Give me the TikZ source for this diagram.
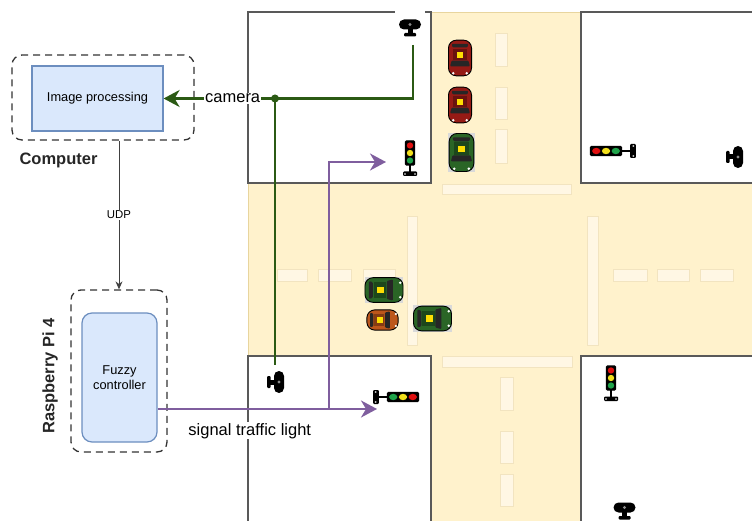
\documentclass[tikz,border=0pt]{standalone}
\usepackage{fontspec}
\setmainfont{Liberation Sans}
\usetikzlibrary{arrows.meta,calc,positioning}

\definecolor{road}{HTML}{FFF2CC}
\definecolor{roadedge}{HTML}{E8D59E}
\definecolor{paint}{HTML}{FFF7E4}
\definecolor{paintedge}{HTML}{F2E4C0}
\definecolor{procfill}{HTML}{DAE8FC}
\definecolor{procedge}{HTML}{6C8EBF}
\definecolor{camgreen}{HTML}{2B5A14}
\definecolor{sigpurple}{HTML}{7F5E9E}
\definecolor{lampred}{HTML}{E01010}
\definecolor{lampyellow}{HTML}{F2E01C}
\definecolor{lampgreen}{HTML}{1FA34A}
\definecolor{carred}{HTML}{951A15}
\definecolor{cargreen}{HTML}{2A6526}
\definecolor{carorange}{HTML}{BC561B}

\tikzset{
	block/.style={fill=white, draw=black!65, line width=1.8pt},
	lane paint/.style={fill=paint, draw=paintedge, line width=.6pt},
	proc/.style={draw=procedge, fill=procfill, line width=1.2pt,
		font=\fontsize{12.8}{15}\selectfont, align=center},
	group/.style={draw=black!80, dash pattern=on 7pt off 5pt, line width=1.3pt,
		rounded corners=10pt},
	group label/.style={font=\fontsize{16.5}{19}\selectfont\bfseries, text=black!85, inner sep=0pt},
	link/.style={draw=black!75, line width=.9pt, -{Stealth[length=8pt,width=7pt]}},
	cam wire/.style={draw=camgreen, line width=2.2pt},
	sig wire/.style={draw=sigpurple, line width=2.2pt},
	big tip/.style={-{Stealth[length=16pt,width=17pt,inset=5pt]}},
	wire label/.style={font=\fontsize{16.5}{19}\selectfont, fill=white, inner sep=1pt},
	% lamp post, upright, centred on the housing
	pics/signal/.style={code={
		\draw[line width=1.2pt, fill=black, rounded corners=1pt] (-4.5,-12) rectangle (4.5,12);
		\fill[lampred] (0,-7.5) circle (3.2pt);
		\fill[lampyellow] (0,0) circle (3.2pt);
		\fill[lampgreen] (0,7.5) circle (3.2pt);
		\draw[line width=2.5pt] (0,12) -- (0,19);
		\fill[rounded corners=1pt] (-7,18.5) rectangle (7,23);
		\fill[white] (-5,21) circle (.8pt) (5,21) circle (.8pt);
	}},
	% webcam on its foot
	pics/webcam/.style={code={
		\fill[white] (-15,-13) rectangle (15,14);
		\fill[rounded corners=5pt] (-11,-5) rectangle (11,5);
		\fill[black!45] (0,0) circle (1.6pt);
		\fill (-2.5,4) rectangle (2.5,9);
		\fill[rounded corners=1pt] (-6,8.5) rectangle (6,12);
	}},
	% car seen from above, front towards +x
	pics/car/.style={code={
		\draw[fill=#1, line width=.9pt, rounded corners=8pt] (-17,-11) rectangle (17,11);
		\fill[#1!70!black] (-9,-7) rectangle (2,7);
		\fill[black!85, rounded corners=1pt] (2.5,-8) -- (8,-9.5) -- (8,9.5) -- (2.5,8) -- cycle;
		\fill[black!85, rounded corners=1pt] (-13.5,-8) -- (-10,-7) -- (-10,7) -- (-13.5,8) -- cycle;
		\fill[yellow!80!orange] (-6,-3) rectangle (0,3);
		\fill[white] (14.5,-6.5) circle (1.3pt) (14.5,6.5) circle (1.3pt);
	}}
}

\begin{document}
\begin{tikzpicture}[x=1pt, y=-1pt]
	\useasboundingbox (0,0) rectangle (752,521);
	\clip (0,0) rectangle (752,521);

	% crossing
	\path[fill=road, draw=roadedge, line width=.8pt] (248,12) rectangle (760,530);
	\foreach \a/\b/\c/\d in {248/12/431/183, 581/12/760/183, 248/356/431/530, 581/356/760/530}
		\draw[block] (\a,\b) rectangle (\c,\d);
	\foreach \a/\b/\c/\d in {442/184/571/194, 442/356/572/367, 407/216/417/345, 587/216/598/345,
			277/269/307/281, 318/269/351/281, 363/269/395/281,
			613/269/647/281, 657/269/689/281, 700/269/733/281,
			495/33/507/66, 495/87/507/119, 495/129/507/163,
			500/377/513/410, 500/431/513/463, 500/474/513/506}
		\draw[lane paint] (\a,\b) rectangle (\c,\d);

	% cars
	\foreach \a/\b/\c/\d in {448/133/475/172, 365/277/403/303, 413/305/452/332}
		\fill[black!15] (\a,\b) rectangle (\c,\d);
	\foreach \x/\y/\r/\s/\col in {460/58/-90/1.05/carred, 460/105/-90/1.05/carred,
			461.5/152.5/-90/1.12/cargreen, 384/290/0/1.12/cargreen,
			382.5/320/0/.92/carorange, 432.5/318.5/0/1.12/cargreen}
		\pic[rotate=\r, scale=\s] at (\x,\y) {car=\col};

	% lights and cameras
	\pic at (410,153) {signal};
	\pic[rotate=90, yscale=1.3] at (606,151) {signal};
	\pic[rotate=-90, yscale=1.3] at (403,397) {signal};
	\pic at (611,378) {signal};
	\pic at (410,24.5) {webcam};
	\pic[rotate=-90] at (738,157) {webcam};
	\pic[rotate=-90] at (279,382) {webcam};
	\pic at (624.5,507.5) {webcam};

	% computer and raspberry pi
	\node[proc, minimum width=131pt, minimum height=65pt] (imgproc) at (97.5,98.5) {Image processing};
	\node[group, minimum width=182pt, minimum height=85pt] (computer) at (103,97.5) {};
	\node[group label, below right=12pt and 8pt of computer.south west] {Computer};
	\node[proc, rounded corners=10pt, minimum width=75pt, minimum height=129pt] (fuzzy) at (119.5,377.5) {Fuzzy\\controller};
	\node[group, minimum width=96pt, minimum height=162pt] (rpi) at (119,371) {};
	\node[group label, rotate=90] at (50,376) {Raspberry Pi 4};

	\draw[link] (computer.south -| rpi.north) -- node[fill=white, inner sep=1.5pt, font=\fontsize{11.4}{13}\selectfont] {UDP} (rpi.north);

	% wires
	\coordinate (camTL) at (413,45);
	\coordinate (camBL) at (275,365);
	\coordinate (camjoin) at (275,98.5);
	\coordinate (lightTL) at (386,162);
	\coordinate (lightBL) at (377,409);
	\coordinate (sigsplit) at (329,409);
	\coordinate (sigout) at ([yshift=-31.5pt]fuzzy.east);

	\draw[cam wire] (camTL) |- (camjoin) -- (camBL);
	\draw[cam wire, big tip] (camjoin) -- node[wire label, pos=.38] {camera} (imgproc.east);
	\fill[camgreen] (camjoin) circle (4pt);

	\draw[sig wire, big tip] (sigout) -- node[wire label, below=12pt, pos=.42] {signal traffic light} (lightBL);
	\draw[sig wire, big tip] (sigsplit) |- (lightTL);
\end{tikzpicture}
\end{document}
